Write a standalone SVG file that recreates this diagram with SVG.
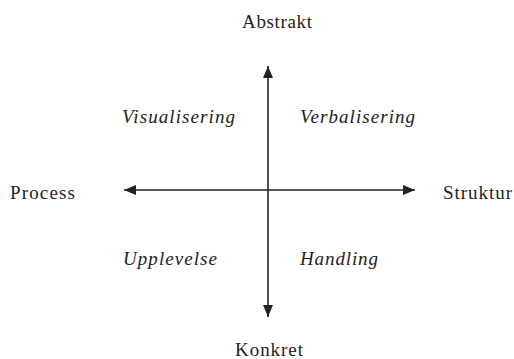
<svg xmlns="http://www.w3.org/2000/svg" width="514" height="359" viewBox="0 0 514 359">
<style>
.t{font-family:"Liberation Serif","Times New Roman",serif;font-size:19px;fill:#222}
.i{font-style:italic}
.ax{stroke:#222;stroke-width:1.6;fill:none}
</style>
<defs>
<marker id="ah" viewBox="0 0 12 10" refX="12" refY="5" markerWidth="12" markerHeight="10" markerUnits="userSpaceOnUse" orient="auto">
<path d="M0,0 L12,5 L0,10 Z" fill="#222"/>
</marker>
</defs>
<rect width="514" height="359" fill="#fff"/>
<g id="connectors">
<line class="ax" x1="268" y1="189" x2="268" y2="66" marker-end="url(#ah)"/>
<line class="ax" x1="268" y1="189" x2="268" y2="317" marker-end="url(#ah)"/>
<line class="ax" x1="268" y1="190" x2="124" y2="190" marker-end="url(#ah)"/>
<line class="ax" x1="268" y1="190" x2="415" y2="190" marker-end="url(#ah)"/>
</g>
<g id="abstrakt"><text class="t" x="242" y="28" textLength="70">Abstrakt</text></g>
<g id="konkret"><text class="t" x="235" y="356" textLength="68">Konkret</text></g>
<g id="process"><text class="t" x="10" y="199" textLength="65">Process</text></g>
<g id="struktur"><text class="t" x="443" y="199" textLength="69">Struktur</text></g>
<g id="visualisering"><text class="t i" x="122" y="123" textLength="113">Visualisering</text></g>
<g id="verbalisering"><text class="t i" x="300" y="123" textLength="115">Verbalisering</text></g>
<g id="upplevelse"><text class="t i" x="123" y="265" textLength="94">Upplevelse</text></g>
<g id="handling"><text class="t i" x="300" y="265" textLength="78">Handling</text></g>
</svg>
